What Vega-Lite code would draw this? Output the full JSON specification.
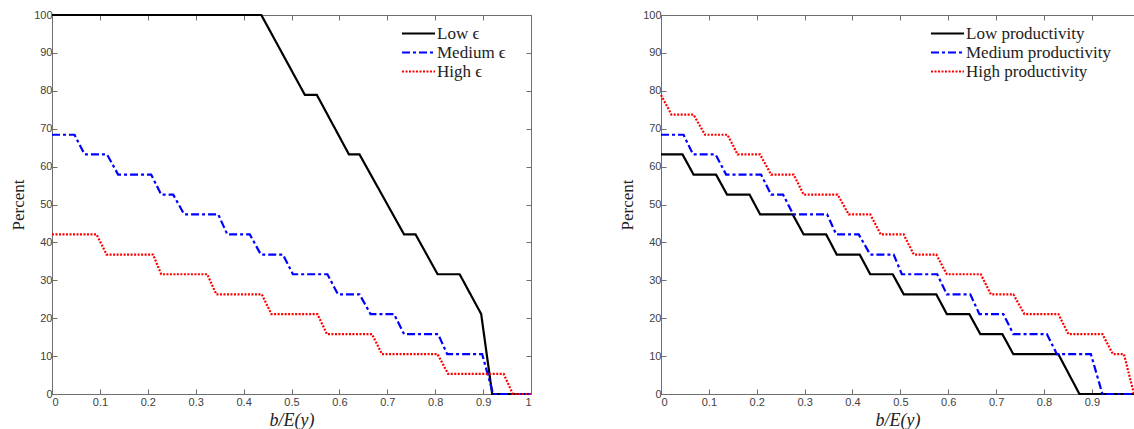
{
  "$schema": "https://vega.github.io/schema/vega-lite/v6.json",
  "padding": {"left": 9, "top": 9, "right": 0, "bottom": 0},
  "spacing": 82,
  "datasets": {
    "eps": [
      {"series": "Low ϵ", "x": 0, "y": 100}, {"series": "Low ϵ", "x": 0.437, "y": 100}, {"series": "Low ϵ", "x": 0.528, "y": 78.9}, {"series": "Low ϵ", "x": 0.553, "y": 78.9}, {"series": "Low ϵ", "x": 0.62, "y": 63.2}, {"series": "Low ϵ", "x": 0.642, "y": 63.2}, {"series": "Low ϵ", "x": 0.735, "y": 42.1}, {"series": "Low ϵ", "x": 0.759, "y": 42.1}, {"series": "Low ϵ", "x": 0.805, "y": 31.6}, {"series": "Low ϵ", "x": 0.851, "y": 31.6}, {"series": "Low ϵ", "x": 0.896, "y": 21.1}, {"series": "Low ϵ", "x": 0.919, "y": 0}, {"series": "Low ϵ", "x": 1, "y": 0},
      {"series": "Medium ϵ", "x": 0, "y": 68.4}, {"series": "Medium ϵ", "x": 0.047, "y": 68.4}, {"series": "Medium ϵ", "x": 0.068, "y": 63.2}, {"series": "Medium ϵ", "x": 0.115, "y": 63.2}, {"series": "Medium ϵ", "x": 0.138, "y": 57.9}, {"series": "Medium ϵ", "x": 0.207, "y": 57.9}, {"series": "Medium ϵ", "x": 0.228, "y": 52.6}, {"series": "Medium ϵ", "x": 0.253, "y": 52.6}, {"series": "Medium ϵ", "x": 0.276, "y": 47.4}, {"series": "Medium ϵ", "x": 0.347, "y": 47.4}, {"series": "Medium ϵ", "x": 0.366, "y": 42.1}, {"series": "Medium ϵ", "x": 0.413, "y": 42.1}, {"series": "Medium ϵ", "x": 0.436, "y": 36.8}, {"series": "Medium ϵ", "x": 0.482, "y": 36.8}, {"series": "Medium ϵ", "x": 0.503, "y": 31.6}, {"series": "Medium ϵ", "x": 0.575, "y": 31.6}, {"series": "Medium ϵ", "x": 0.597, "y": 26.3}, {"series": "Medium ϵ", "x": 0.642, "y": 26.3}, {"series": "Medium ϵ", "x": 0.665, "y": 21.1}, {"series": "Medium ϵ", "x": 0.714, "y": 21.1}, {"series": "Medium ϵ", "x": 0.735, "y": 15.8}, {"series": "Medium ϵ", "x": 0.806, "y": 15.8}, {"series": "Medium ϵ", "x": 0.825, "y": 10.5}, {"series": "Medium ϵ", "x": 0.898, "y": 10.5}, {"series": "Medium ϵ", "x": 0.921, "y": 0}, {"series": "Medium ϵ", "x": 1, "y": 0},
      {"series": "High ϵ", "x": 0, "y": 42.1}, {"series": "High ϵ", "x": 0.093, "y": 42.1}, {"series": "High ϵ", "x": 0.114, "y": 36.8}, {"series": "High ϵ", "x": 0.211, "y": 36.8}, {"series": "High ϵ", "x": 0.228, "y": 31.6}, {"series": "High ϵ", "x": 0.324, "y": 31.6}, {"series": "High ϵ", "x": 0.343, "y": 26.3}, {"series": "High ϵ", "x": 0.438, "y": 26.3}, {"series": "High ϵ", "x": 0.458, "y": 21.1}, {"series": "High ϵ", "x": 0.554, "y": 21.1}, {"series": "High ϵ", "x": 0.574, "y": 15.8}, {"series": "High ϵ", "x": 0.668, "y": 15.8}, {"series": "High ϵ", "x": 0.689, "y": 10.5}, {"series": "High ϵ", "x": 0.805, "y": 10.5}, {"series": "High ϵ", "x": 0.827, "y": 5.3}, {"series": "High ϵ", "x": 0.943, "y": 5.3}, {"series": "High ϵ", "x": 0.962, "y": 0}, {"series": "High ϵ", "x": 1, "y": 0}
    ],
    "prod": [
      {"series": "Low productivity", "x": 0, "y": 63.2}, {"series": "Low productivity", "x": 0.045, "y": 63.2}, {"series": "Low productivity", "x": 0.068, "y": 57.9}, {"series": "Low productivity", "x": 0.115, "y": 57.9}, {"series": "Low productivity", "x": 0.138, "y": 52.6}, {"series": "Low productivity", "x": 0.185, "y": 52.6}, {"series": "Low productivity", "x": 0.207, "y": 47.4}, {"series": "Low productivity", "x": 0.275, "y": 47.4}, {"series": "Low productivity", "x": 0.298, "y": 42.1}, {"series": "Low productivity", "x": 0.345, "y": 42.1}, {"series": "Low productivity", "x": 0.367, "y": 36.8}, {"series": "Low productivity", "x": 0.415, "y": 36.8}, {"series": "Low productivity", "x": 0.437, "y": 31.6}, {"series": "Low productivity", "x": 0.484, "y": 31.6}, {"series": "Low productivity", "x": 0.507, "y": 26.3}, {"series": "Low productivity", "x": 0.575, "y": 26.3}, {"series": "Low productivity", "x": 0.597, "y": 21.1}, {"series": "Low productivity", "x": 0.644, "y": 21.1}, {"series": "Low productivity", "x": 0.667, "y": 15.8}, {"series": "Low productivity", "x": 0.713, "y": 15.8}, {"series": "Low productivity", "x": 0.736, "y": 10.5}, {"series": "Low productivity", "x": 0.83, "y": 10.5}, {"series": "Low productivity", "x": 0.874, "y": 0}, {"series": "Low productivity", "x": 0.988, "y": 0},
      {"series": "Medium productivity", "x": 0, "y": 68.4}, {"series": "Medium productivity", "x": 0.047, "y": 68.4}, {"series": "Medium productivity", "x": 0.067, "y": 63.2}, {"series": "Medium productivity", "x": 0.114, "y": 63.2}, {"series": "Medium productivity", "x": 0.136, "y": 57.9}, {"series": "Medium productivity", "x": 0.209, "y": 57.9}, {"series": "Medium productivity", "x": 0.23, "y": 52.6}, {"series": "Medium productivity", "x": 0.255, "y": 52.6}, {"series": "Medium productivity", "x": 0.276, "y": 47.4}, {"series": "Medium productivity", "x": 0.347, "y": 47.4}, {"series": "Medium productivity", "x": 0.366, "y": 42.1}, {"series": "Medium productivity", "x": 0.413, "y": 42.1}, {"series": "Medium productivity", "x": 0.437, "y": 36.8}, {"series": "Medium productivity", "x": 0.486, "y": 36.8}, {"series": "Medium productivity", "x": 0.503, "y": 31.6}, {"series": "Medium productivity", "x": 0.577, "y": 31.6}, {"series": "Medium productivity", "x": 0.597, "y": 26.3}, {"series": "Medium productivity", "x": 0.646, "y": 26.3}, {"series": "Medium productivity", "x": 0.665, "y": 21.1}, {"series": "Medium productivity", "x": 0.715, "y": 21.1}, {"series": "Medium productivity", "x": 0.736, "y": 15.8}, {"series": "Medium productivity", "x": 0.806, "y": 15.8}, {"series": "Medium productivity", "x": 0.827, "y": 10.5}, {"series": "Medium productivity", "x": 0.898, "y": 10.5}, {"series": "Medium productivity", "x": 0.922, "y": 0}, {"series": "Medium productivity", "x": 0.988, "y": 0},
      {"series": "High productivity", "x": 0, "y": 78.9}, {"series": "High productivity", "x": 0.022, "y": 73.7}, {"series": "High productivity", "x": 0.068, "y": 73.7}, {"series": "High productivity", "x": 0.092, "y": 68.4}, {"series": "High productivity", "x": 0.139, "y": 68.4}, {"series": "High productivity", "x": 0.16, "y": 63.2}, {"series": "High productivity", "x": 0.207, "y": 63.2}, {"series": "High productivity", "x": 0.23, "y": 57.9}, {"series": "High productivity", "x": 0.277, "y": 57.9}, {"series": "High productivity", "x": 0.298, "y": 52.6}, {"series": "High productivity", "x": 0.369, "y": 52.6}, {"series": "High productivity", "x": 0.392, "y": 47.4}, {"series": "High productivity", "x": 0.437, "y": 47.4}, {"series": "High productivity", "x": 0.459, "y": 42.1}, {"series": "High productivity", "x": 0.507, "y": 42.1}, {"series": "High productivity", "x": 0.528, "y": 36.8}, {"series": "High productivity", "x": 0.575, "y": 36.8}, {"series": "High productivity", "x": 0.597, "y": 31.6}, {"series": "High productivity", "x": 0.668, "y": 31.6}, {"series": "High productivity", "x": 0.689, "y": 26.3}, {"series": "High productivity", "x": 0.736, "y": 26.3}, {"series": "High productivity", "x": 0.759, "y": 21.1}, {"series": "High productivity", "x": 0.83, "y": 21.1}, {"series": "High productivity", "x": 0.851, "y": 15.8}, {"series": "High productivity", "x": 0.922, "y": 15.8}, {"series": "High productivity", "x": 0.944, "y": 10.5}, {"series": "High productivity", "x": 0.967, "y": 10.5}, {"series": "High productivity", "x": 0.988, "y": 0}
    ]
  },
  "hconcat": [
    {
      "width": 479,
      "height": 379,
      "data": {"name": "eps"},
      "layer": [
        {
          "mark": {"type": "line", "strokeWidth": 2.2, "strokeCap": "butt"},
          "encoding": {
            "x": {"field": "x", "type": "quantitative", "scale": {"domain": [0, 1], "nice": false, "zero": false},
                  "axis": {"orient": "bottom", "values": [0, 0.1, 0.2, 0.3, 0.4, 0.5, 0.6, 0.7, 0.8, 0.9, 1], "format": "~g", "title": "b/E(y)", "titleFontStyle": "italic"}},
            "y": {"field": "y", "type": "quantitative", "scale": {"domain": [0, 100], "nice": false},
                  "axis": {"orient": "left", "values": [0, 10, 20, 30, 40, 50, 60, 70, 80, 90, 100], "title": "Percent"}},
            "color": {"field": "series", "type": "nominal",
                      "scale": {"domain": ["Low ϵ", "Medium ϵ", "High ϵ"], "range": ["#000000", "#0000ff", "#ff0000"]},
                      "legend": {"title": null, "orient": "none", "legendX": 358, "legendY": 10}},
            "strokeDash": {"field": "series", "type": "nominal",
                      "scale": {"domain": ["Low ϵ", "Medium ϵ", "High ϵ"], "range": [[1, 0], [8, 3, 3, 3], [2, 1.5]]},
                      "legend": {"title": null, "orient": "none", "legendX": 358, "legendY": 10}}
          }
        },
        {
          "mark": {"type": "line", "opacity": 0},
          "encoding": {
            "x": {"field": "x", "type": "quantitative", "axis": {"orient": "top", "values": [0, 0.1, 0.2, 0.3, 0.4, 0.5, 0.6, 0.7, 0.8, 0.9, 1], "labels": false, "title": null}},
            "y": {"field": "y", "type": "quantitative", "axis": {"orient": "right", "values": [0, 10, 20, 30, 40, 50, 60, 70, 80, 90, 100], "labels": false, "title": null}}
          }
        }
      ],
      "resolve": {"axis": {"x": "independent", "y": "independent"}}
    },
    {
      "width": 473,
      "height": 379,
      "data": {"name": "prod"},
      "layer": [
        {
          "mark": {"type": "line", "strokeWidth": 2.2, "strokeCap": "butt"},
          "encoding": {
            "x": {"field": "x", "type": "quantitative", "scale": {"domain": [0, 0.988], "nice": false, "zero": false},
                  "axis": {"orient": "bottom", "values": [0, 0.1, 0.2, 0.3, 0.4, 0.5, 0.6, 0.7, 0.8, 0.9], "format": "~g", "title": "b/E(y)", "titleFontStyle": "italic"}},
            "y": {"field": "y", "type": "quantitative", "scale": {"domain": [0, 100], "nice": false},
                  "axis": {"orient": "left", "values": [0, 10, 20, 30, 40, 50, 60, 70, 80, 90, 100], "title": "Percent"}},
            "color": {"field": "series", "type": "nominal",
                      "scale": {"domain": ["Low productivity", "Medium productivity", "High productivity"], "range": ["#000000", "#0000ff", "#ff0000"]},
                      "legend": {"title": null, "orient": "none", "legendX": 278, "legendY": 10}},
            "strokeDash": {"field": "series", "type": "nominal",
                      "scale": {"domain": ["Low productivity", "Medium productivity", "High productivity"], "range": [[1, 0], [8, 3, 3, 3], [2, 1.5]]},
                      "legend": {"title": null, "orient": "none", "legendX": 278, "legendY": 10}}
          }
        },
        {
          "mark": {"type": "line", "opacity": 0},
          "encoding": {
            "x": {"field": "x", "type": "quantitative", "axis": {"orient": "top", "values": [0, 0.1, 0.2, 0.3, 0.4, 0.5, 0.6, 0.7, 0.8, 0.9], "labels": false, "title": null}},
            "y": {"field": "y", "type": "quantitative", "axis": null}
          }
        }
      ],
      "resolve": {"axis": {"x": "independent", "y": "independent"}}
    }
  ],
  "resolve": {"scale": {"color": "independent", "strokeDash": "independent"}, "legend": {"color": "independent", "strokeDash": "independent"}},
  "config": {
    "view": {"stroke": null},
    "axis": {
      "grid": false,
      "domainColor": "#6e6e6e",
      "domainWidth": 1,
      "tickColor": "#6e6e6e",
      "tickSize": -5,
      "tickWidth": 1,
      "labelFont": "Liberation Sans",
      "labelFontSize": 11,
      "labelColor": "#404040",
      "labelPadding": 5,
      "titleFont": "Liberation Serif",
      "titleFontSize": 17,
      "titleFontWeight": "normal",
      "titleColor": "#222222"
    },
    "axisX": {"titlePadding": 4, "labelPadding": 7, "titleFontSize": 18},
    "axisY": {"titlePadding": 6},
    "legend": {
      "symbolType": "M-3,0H3",
      "symbolSize": 121,
      "symbolStrokeWidth": 2.2,
      "labelFont": "Liberation Serif",
      "labelFontSize": 17,
      "labelColor": "#222222",
      "labelOffset": 10,
      "rowPadding": 1,
      "padding": 0,
      "labelLimit": 300
    }
  }
}
